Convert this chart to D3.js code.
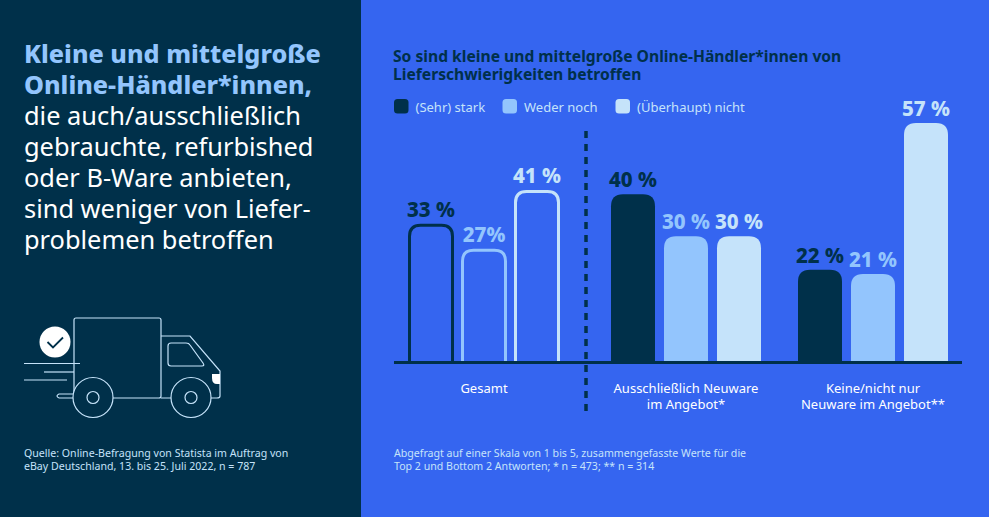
<!DOCTYPE html>
<html><head><meta charset="utf-8">
<script src="https://cdn.jsdelivr.net/npm/d3@7"></script>
<style>html,body{margin:0;padding:0;background:#3565f0;overflow:hidden}svg{display:block}text{font-family:"Noto Sans",sans-serif}</style>
</head><body><svg id="c" width="989" height="517"></svg>
<script>
const categories=["Gesamt","Ausschließlich Neuware im Angebot*","Keine/nicht nur Neuware im Angebot**"];
const categoryLines=[["Gesamt"],["Ausschließlich Neuware","im Angebot*"],["Keine/nicht nur","Neuware im Angebot**"]];
const seriesNames=["(Sehr) stark","Weder noch","(Überhaupt) nicht"];
const stark=[33,40,22];
const weder=[27,30,21];
const nicht=[41,30,57];
const valueLabels=[["33 %","40 %","22 %"],["27%","30 %","21 %"],["41 %","30 %","57 %"]];
const headline=["Kleine und mittelgroße","Online-Händler*innen,"];
const bodyLines=["die auch/ausschließlich","gebrauchte, refurbished","oder B-Ware anbieten,","sind weniger von Liefer-","problemen betroffen"];
const source=["Quelle: Online-Befragung von Statista im Auftrag von","eBay Deutschland, 13. bis 25. Juli 2022, n = 787"];
const note=["Abgefragt auf einer Skala von 1 bis 5, zusammengefasste Werte für die","Top 2 und Bottom 2 Antworten; * n = 473; ** n = 314"];
const title=["So sind kleine und mittelgroße Online-Händler*innen von","Lieferschwierigkeiten betroffen"];
const NAVY="#00304a",BLUE="#3565f0",LIGHT="#93c5fd",PALE="#c5e3fa";
const colors=[NAVY,LIGHT,PALE];
const svg=d3.select("#c");
svg.append("rect").attr("width",989).attr("height",517).attr("fill",BLUE);
svg.append("rect").attr("width",361).attr("height",517).attr("fill",NAVY);
const T=(s,x,y,size,fill,weight,anchor)=>s.append("text").attr("x",x).attr("y",y).attr("font-size",size).attr("fill",fill).attr("font-weight",weight||400).attr("text-anchor",anchor||"start");
headline.forEach((t,i)=>T(svg,24,63+i*31,25.2,LIGHT,800).text(t));
bodyLines.forEach((t,i)=>T(svg,24,125+i*31,25.4,"#fff",400).text(t));
source.forEach((t,i)=>T(svg,24,457+i*13,10.6,PALE).text(t));
title.forEach((t,i)=>T(svg,393,62+i*17.5,15.65,NAVY,700).text(t));
note.forEach((t,i)=>T(svg,394,457+i*13,10.6,PALE).text(t));
// legend
const legendX=d3.scaleOrdinal().domain(seriesNames).range([394,502.5,615.5]);
seriesNames.forEach((n,i)=>{
  svg.append("rect").attr("x",legendX(n)).attr("y",99).attr("width",14.5).attr("height",14.5).attr("rx",3.5).attr("fill",colors[i]);
  T(svg,legendX(n)+21.5,111.5,13,PALE).text(n);
});
// scales
const y=d3.scaleLinear().domain([0,57]).range([362,123]);
const groupX=d3.scaleOrdinal().domain(categories).range([409,611,798]);
const inner=d3.scaleBand().domain([0,1,2]).range([0,150]).paddingInner(0.17).paddingOuter(0);
const series=[stark,weder,nicht];
const bw=inner.bandwidth();
const barPath=(x,top,w,r,base)=>`M${x},${base}V${top+r}Q${x},${top} ${x+r},${top}H${x+w-r}Q${x+w},${top} ${x+w},${top+r}V${base}`;
categories.forEach((c,g)=>{
  series.forEach((vals,s)=>{
    const x=groupX(c)+inner(s),v=vals[g];
    if(g===0){
      svg.append("path").attr("d",barPath(x+0.5,y(v)+1.5,bw-1,11,362)).attr("fill","none").attr("stroke",colors[s]).attr("stroke-width",3);
    }else{
      svg.append("path").attr("d",barPath(x,y(v),bw,12,362)+"Z").attr("fill",colors[s]);
    }
    T(svg,x+bw/2,y(v)-7,20.5,colors[s],800,"middle").text(valueLabels[s][g]);
  });
  const lines=categoryLines[g];
  lines.forEach((t,i)=>T(svg,[484,686,873][g],393+i*16,13,"#fff",400,"middle").text(t));
});
// baseline, divider
svg.append("line").attr("x1",394).attr("x2",962).attr("y1",362.5).attr("y2",362.5).attr("stroke",NAVY).attr("stroke-width",3);
svg.append("line").attr("x1",586).attr("x2",586).attr("y1",131).attr("y2",413).attr("stroke",NAVY).attr("stroke-width",3.5).attr("stroke-dasharray","7 6");
// truck icon
const tr=svg.append("g").attr("fill","none").attr("stroke",PALE).attr("stroke-width",1.2);
tr.append("path").attr("d","M59,398H74M59,398Q55,396 59,394H74M74,394V320Q74,318 76,318H159Q161,318 161,320V396Q161,398 159,398H113");
tr.append("path").attr("d","M161,336H190L220,371V396Q220,398 217,398H211M171,398H161");
tr.append("path").attr("d","M171,343Q168,343 168,346V363Q168,366 171,366H202Q205,366 203,363L190,345Q189,343 186,343Z");
tr.append("path").attr("d","M212,374H220V384H217Q212,384 212,378Z").attr("fill","#fff").attr("stroke","none");
[[93,397.5],[191,397.5]].forEach(([cx,cy])=>{
  tr.append("circle").attr("cx",cx).attr("cy",cy).attr("r",20).attr("fill",NAVY);
  tr.append("circle").attr("cx",cx).attr("cy",cy).attr("r",6);
});
[[24,80,363.5],[44,74,372],[24,67,380]].forEach(([a,b,yy])=>tr.append("line").attr("x1",a).attr("x2",b).attr("y1",yy).attr("y2",yy));
svg.append("circle").attr("cx",55).attr("cy",342).attr("r",15.5).attr("fill","#fff");
svg.append("path").attr("d","M47.5,342L53,347.5L63,337.5").attr("fill","none").attr("stroke",NAVY).attr("stroke-width",1.8);
</script></body></html>
